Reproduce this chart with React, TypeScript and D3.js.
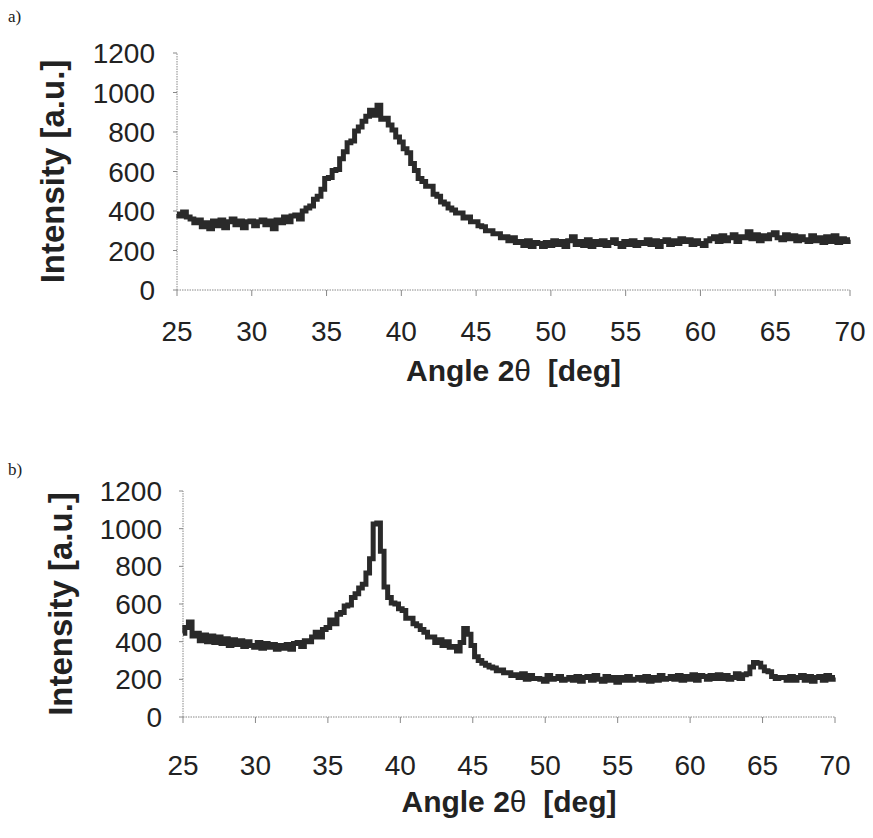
import * as d3 from "d3";

// sampling grid of the diffractograms (deg)
const angles = d3.range(25, 70.001, 0.25);

// a) intensity
const intensityA = [
  385, 375, 395, 370, 360, 340, 355, 320, 340, 310, 350, 325, 355, 315, 345, 360,
  330, 350, 315, 345, 350, 325, 345, 355, 330, 350, 310, 355, 340, 370, 345, 375,
  380, 360, 400, 415, 425, 460, 475, 510, 565, 570, 605, 610, 665, 700, 745, 755,
  805, 825, 855, 880, 910, 885, 935, 865, 870, 835, 810, 775, 750, 715, 695, 640,
  605, 565, 550, 525, 525, 485, 475, 445, 435, 415, 405, 390, 390, 365, 370, 345,
  345, 325, 320, 300, 300, 285, 285, 265, 270, 250, 265, 240, 245, 225, 250, 220,
  240, 235, 220, 240, 225, 250, 230, 245, 220, 250, 270, 230, 245, 225, 255, 220,
  245, 230, 250, 225, 240, 255, 235, 220, 245, 230, 250, 225, 240, 235, 255, 230,
  250, 220, 245, 255, 230, 250, 235, 260, 245, 255, 230, 250, 235, 225, 250, 260,
  270, 245, 275, 250, 265, 280, 245, 270, 265, 295, 260, 280, 250, 275, 260, 280,
  290, 265, 255, 280, 260, 275, 250, 270, 255, 245, 275, 250, 265, 240, 270, 245,
  275, 240, 260, 245, 255,
];

// b) intensity
const intensityB = [
  445, 475, 505, 430, 445, 405, 435, 400, 430, 395, 425, 390, 415, 380, 410, 385,
  405, 375, 400, 380, 370, 395, 365, 390, 370, 385, 360, 380, 365, 385, 360, 390,
  395, 375, 405, 400, 425, 450, 425, 465, 475, 515, 495, 545, 555, 590, 595, 635,
  655, 685, 705, 765, 840, 1025, 1030, 880, 690, 635, 605, 600, 575, 565, 525, 525,
  495, 485, 465, 450, 425, 425, 395, 410, 380, 400, 370, 375, 350, 395, 470, 440,
  380, 320, 300, 285, 275, 265, 260, 245, 250, 235, 235, 220, 225, 210, 230, 200,
  220, 205, 205, 200, 190, 220, 200, 205, 215, 195, 200, 210, 195, 215, 190, 210,
  215, 195, 220, 200, 190, 215, 195, 210, 185, 210, 195, 215, 195, 200, 210, 195,
  215, 190, 210, 195, 220, 200, 205, 215, 200, 220, 195, 215, 200, 225, 195, 220,
  215, 200, 220, 205, 225, 205, 220, 200, 210, 230, 205, 225, 230, 265, 290, 285,
  265, 245, 240, 215, 205, 210, 210, 195, 215, 195, 210, 220, 195, 215, 190, 210,
  215, 195, 220, 200, 210,
];

const xTicks = [25, 30, 35, 40, 45, 50, 55, 60, 65, 70];
const yTicks = [0, 200, 400, 600, 800, 1000, 1200];

const font = "'Liberation Sans', Arial, sans-serif";
const ink = "#222";

function Panel({ values, tag, tagY, left, right, zeroY, topY, labelRight, xLabelY, titleY, yTitleX }) {
  const x = d3.scaleLinear().domain([25, 70]).range([left, right]);
  const y = d3.scaleLinear().domain([0, 1200]).range([zeroY, topY]);
  const line = d3.line<number>()
    .x((_, i) => x(angles[i]))
    .y((d) => y(d))
    .curve(d3.curveStep);

  return (
    <g>
      <text x={8} y={tagY} fontFamily="'Liberation Serif', serif" fontSize={17} fill={ink}>{tag}</text>

      {/* axes */}
      <line x1={left} y1={zeroY} x2={right} y2={zeroY} stroke="#888" strokeDasharray="1.5 1" />
      <line x1={left} y1={zeroY} x2={left} y2={topY} stroke="#888" strokeDasharray="1.5 1" />

      {yTicks.map((v) => (
        <g key={v}>
          <line x1={left - 4} x2={left} y1={y(v)} y2={y(v)} stroke="#888" />
          <text x={labelRight} y={y(v)} dy="0.36em" textAnchor="end" fontFamily={font} fontSize={28} fill={ink}>{v}</text>
        </g>
      ))}
      {xTicks.map((v) => (
        <g key={v}>
          <line x1={x(v)} x2={x(v)} y1={zeroY} y2={zeroY + 6} stroke="#888" />
          <text x={x(v)} y={xLabelY} textAnchor="middle" fontFamily={font} fontSize={28} fill={ink}>{v}</text>
        </g>
      ))}

      <path d={line(values) ?? ""} fill="none" stroke="#2a2a2a" strokeWidth={5} strokeLinejoin="miter" />

      <text x={(left + right) / 2} y={titleY} textAnchor="middle" fontFamily={font} fontSize={30} fontWeight="bold" fill={ink}>
        Angle 2<tspan fontWeight="normal">θ</tspan>{"\u00a0 [deg]"}
      </text>
      <text
        transform={`translate(${yTitleX},${(zeroY + topY) / 2}) rotate(-90)`}
        textAnchor="middle"
        fontFamily={font}
        fontSize={33}
        fontWeight="bold"
        fill={ink}
      >
        Intensity [a.u.]
      </text>
    </g>
  );
}

export default function App() {
  const width = 873;
  const height = 838;

  return (
    <svg width={width} height={height} style={{ position: "absolute", left: 0, top: 0, background: "#fff" }}>
      <Panel values={intensityA} tag="a)" tagY={22} left={177} right={850} zeroY={290} topY={53}
        labelRight={155} xLabelY={341} titleY={381} yTitleX={64} />
      <Panel values={intensityB} tag="b)" tagY={475} left={183} right={835} zeroY={717} topY={491}
        labelRight={162} xLabelY={775} titleY={812} yTitleX={72} />
    </svg>
  );
}
